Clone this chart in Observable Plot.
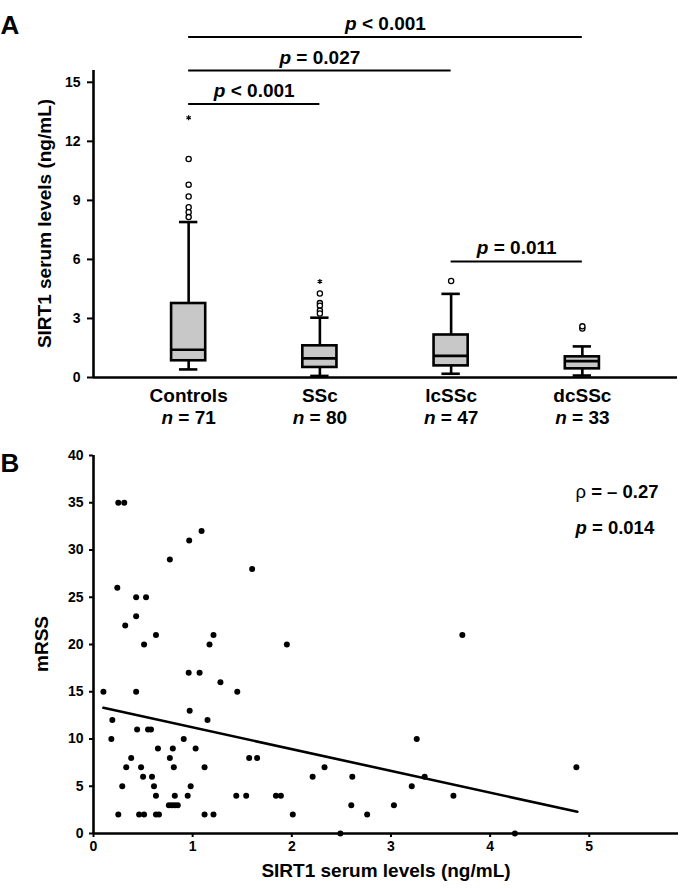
<!DOCTYPE html>
<html><head><meta charset="utf-8">
<script src="https://cdn.jsdelivr.net/npm/d3@7"></script>
<script src="https://cdn.jsdelivr.net/npm/@observablehq/plot@0.6"></script>
<style>
body{margin:0;background:#fff;}
#wrap{position:relative;width:687px;height:889px;}
#a,#b{position:absolute;left:0;}
#a{top:0}
#b{top:432px}
</style></head>
<body><div id="wrap"><div id="a"></div><div id="b"></div></div>
<script>
// ---------- Panel A data ----------
const categories = ["Controls", "SSc", "lcSSc", "dcSSc"];
const groupN = [71, 80, 47, 33];
const whiskerLow = [0.41, 0.08, 0.19, 0.10];
const q1 = [0.85, 0.51, 0.59, 0.44];
const median = [1.41, 0.97, 1.10, 0.83];
const q3 = [3.76, 1.61, 2.16, 1.05];
const whiskerHigh = [7.9, 3.04, 4.25, 1.58];
const outlierGroup = [0, 0, 0, 0, 0, 0, 1, 1, 1, 1, 1, 2, 3, 3];
const outlierValue = [11.1, 9.8, 9.2, 8.65, 8.4, 8.15, 4.27, 3.78, 3.65, 3.4, 3.25, 4.9, 2.49, 2.6];
const extremeGroup = [0, 1];
const extremeValue = [13.2, 4.88];
const yTicksA = [0, 3, 6, 9, 12, 15];
const yLabelA = "SIRT1 serum levels (ng/mL)";
const bracketFrom = [0, 0, 0, 2];
const bracketTo = [1, 2, 3, 3];
const bracketLevel = [13.9, 15.6, 17.3, 5.9];
const bracketLabel = ["p < 0.001", "p = 0.027", "p < 0.001", "p = 0.011"];

// ---------- Panel B data ----------
const sirt1 = [0.25, 0.31, 0.24, 0.43, 0.53, 0.43, 0.32, 0.63, 0.77, 0.965, 1.09, 1.21, 1.60,
  0.51, 1.17, 1.95, 0.10, 0.43, 1.45, 0.96, 1.07, 1.28, 0.97, 1.15, 0.19, 0.18, 0.44, 0.55, 0.58,
  0.91, 0.65, 0.80, 1.03, 0.38, 0.77, 1.57, 1.65, 0.33, 0.48, 0.81, 1.12, 0.59, 0.50, 0.29, 0.61,
  0.98, 0.63, 0.82, 0.95, 1.44, 1.54, 1.84, 1.89, 0.76, 0.79, 0.82, 0.85, 0.25, 0.46, 0.51, 0.63,
  0.66, 1.12, 1.21, 2.01,
  3.72, 2.21, 2.33, 2.61, 2.60, 2.76, 3.03, 3.21, 3.26, 3.34, 3.63, 2.49, 4.25, 4.87];
const mrss = [35, 35, 26, 25, 25, 23, 22, 21, 29, 31, 32, 21, 28,
  20, 20, 20, 15, 15, 15, 17, 17, 16, 13, 12, 12, 10, 11, 11, 11,
  10, 9, 9, 9, 8, 8, 8, 8, 7, 7, 7, 7, 6, 6, 5, 5,
  5, 4, 4, 4, 4, 4, 4, 4, 3, 3, 3, 3, 2, 2, 2, 2,
  2, 2, 2, 2,
  21, 6, 7, 6, 3, 2, 3, 5, 10, 6, 4, 0, 0, 7];
const fitX = [0.10, 4.88];
const fitY = [13.3, 2.3];
const xTicksB = [0, 1, 2, 3, 4, 5];
const yTicksB = [0, 5, 10, 15, 20, 25, 30, 35, 40];
const statRho = "ρ = – 0.27";
const statP = "p = 0.014";
const xLabelB = "SIRT1 serum levels (ng/mL)";
const yLabelB = "mRSS";

// ---------- helpers ----------
const fontFamily = "'Liberation Sans', Arial, Helvetica, sans-serif";
const NS = "http://www.w3.org/2000/svg";
function styleText(svg) {
  svg.querySelectorAll("text, tspan").forEach(el => {
    if (el.children.length) return;
    const t = el.textContent;
    let m = t.match(/^([pn])( [=<] .*)$/);
    let style = null;
    if (m) style = ["font-style", "italic"];
    else { m = t.match(/^(ρ)( .*)$/); if (m) style = ["font-weight", "normal"]; }
    if (!m) return;
    el.textContent = "";
    const s = document.createElementNS(NS, "tspan");
    s.setAttribute(style[0], style[1]);
    s.textContent = m[1];
    el.appendChild(s);
    el.appendChild(document.createTextNode(m[2]));
  });
}
function addText(svg, str, x, y, size, rotate) {
  const t = d3.select(svg).append("text")
    .attr("transform", `translate(${x},${y})` + (rotate ? ` rotate(${rotate})` : ""))
    .attr("font-size", size).attr("font-weight", "bold").attr("font-family", fontFamily)
    .attr("fill", "black").text(str);
  if (rotate) t.attr("text-anchor", "middle");
}

// ---------- Panel A ----------
const idxA = categories.map((_, i) => i);
const idxBr = bracketLabel.map((_, i) => i);
const xDomA = [-0.725, 3.725];
const boxHalf = 0.13, capHalf = 0.07, lw = 2.6;
const mA = {top: 70, bottom: 55, left: 93, right: 10, height: 432};

const plotA = Plot.plot({
  width: 687, height: mA.height,
  marginLeft: mA.left, marginRight: mA.right, marginTop: mA.top, marginBottom: mA.bottom,
  style: {fontFamily, fontWeight: "bold", background: "white", color: "black"},
  x: {domain: xDomA, axis: null},
  y: {domain: [0, 15.6], axis: null},
  marks: [
    Plot.axisY({ticks: yTicksA, tickSize: 6, tickPadding: 7, fontSize: 14, strokeWidth: 2, label: null, tickFormat: d => String(d)}),
    Plot.ruleX([xDomA[0]], {strokeWidth: lw}),
    Plot.ruleX(idxA, {x: i => i, y1: i => whiskerLow[i], y2: i => whiskerHigh[i], strokeWidth: lw}),
    Plot.ruleY(idxA, {x1: i => i - capHalf, x2: i => i + capHalf, y: i => whiskerHigh[i], strokeWidth: lw}),
    Plot.ruleY(idxA, {x1: i => i - capHalf, x2: i => i + capHalf, y: i => whiskerLow[i], strokeWidth: lw}),
    Plot.rect(idxA, {x1: i => i - boxHalf, x2: i => i + boxHalf, y1: i => q1[i], y2: i => q3[i], fill: "#c8c8c8", stroke: "black", strokeWidth: lw}),
    Plot.ruleY(idxA, {x1: i => i - boxHalf, x2: i => i + boxHalf, y: i => median[i], strokeWidth: lw}),
    Plot.ruleY([0], {strokeWidth: lw}),
    Plot.dot(outlierValue, {x: (d, i) => outlierGroup[i], y: d => d, r: 2.6, fill: "white", stroke: "black", strokeWidth: 1.3}),
    Plot.dot(extremeValue, {x: (d, i) => extremeGroup[i], y: d => d, symbol: "asterisk", r: 2.4, stroke: "black", strokeWidth: 1.2}),
    Plot.ruleY(idxBr, {x1: i => bracketFrom[i], x2: i => bracketTo[i], y: i => bracketLevel[i], strokeWidth: 2}),
    Plot.text(idxBr, {x: i => (bracketFrom[i] + bracketTo[i]) / 2, y: i => bracketLevel[i], text: i => bracketLabel[i], lineAnchor: "bottom", dy: -7, fontSize: 19}),
    Plot.text(idxA, {x: i => i, y: 0, text: i => categories[i], lineAnchor: "bottom", dy: 24, fontSize: 19}),
    Plot.text(idxA, {x: i => i, y: 0, text: i => "n = " + groupN[i], lineAnchor: "bottom", dy: 46, fontSize: 19})
  ]
});
styleText(plotA);
addText(plotA, "A", 10, 34, 26);
addText(plotA, yLabelA, 51, (mA.top + mA.height - mA.bottom) / 2, 19, -90);
document.getElementById("a").appendChild(plotA);

// ---------- Panel B ----------
const mB = {top: 23, bottom: 56, left: 93, right: 9, height: 457};
const plotB = Plot.plot({
  width: 687, height: mB.height,
  marginLeft: mB.left, marginRight: mB.right, marginTop: mB.top, marginBottom: mB.bottom,
  style: {fontFamily, fontWeight: "bold", background: "white", color: "black"},
  x: {domain: [0, 5.9], axis: null},
  y: {domain: [0, 40], axis: null},
  marks: [
    Plot.axisY({ticks: yTicksB, tickSize: 4, tickPadding: 6, fontSize: 14, strokeWidth: 2, label: null, tickFormat: d => String(d)}),
    Plot.axisX({ticks: xTicksB, tickSize: 4, tickPadding: 4, fontSize: 14, strokeWidth: 2, label: null, tickFormat: d => String(d)}),
    Plot.ruleX([0], {strokeWidth: lw}),
    Plot.ruleY([0], {strokeWidth: lw}),
    Plot.dot(sirt1, {x: d => d, y: (d, i) => mrss[i], r: 3, fill: "black"}),
    Plot.line(fitX.map((x, i) => [x, fitY[i]]), {strokeWidth: lw}),
    Plot.text([statRho], {frameAnchor: "top-right", textAnchor: "start", lineAnchor: "bottom", dx: -103, dy: 42, fontSize: 18.5}),
    Plot.text([statP], {frameAnchor: "top-right", textAnchor: "start", lineAnchor: "bottom", dx: -103, dy: 78, fontSize: 18.5}),
    Plot.text([xLabelB], {frameAnchor: "bottom", lineAnchor: "bottom", dy: 43, fontSize: 19})
  ]
});
styleText(plotB);
addText(plotB, "B", 10, 40, 26);
addText(plotB, yLabelB, 48, (mB.top + mB.height - mB.bottom) / 2, 19, -90);
document.getElementById("b").appendChild(plotB);
</script>
</body></html>
